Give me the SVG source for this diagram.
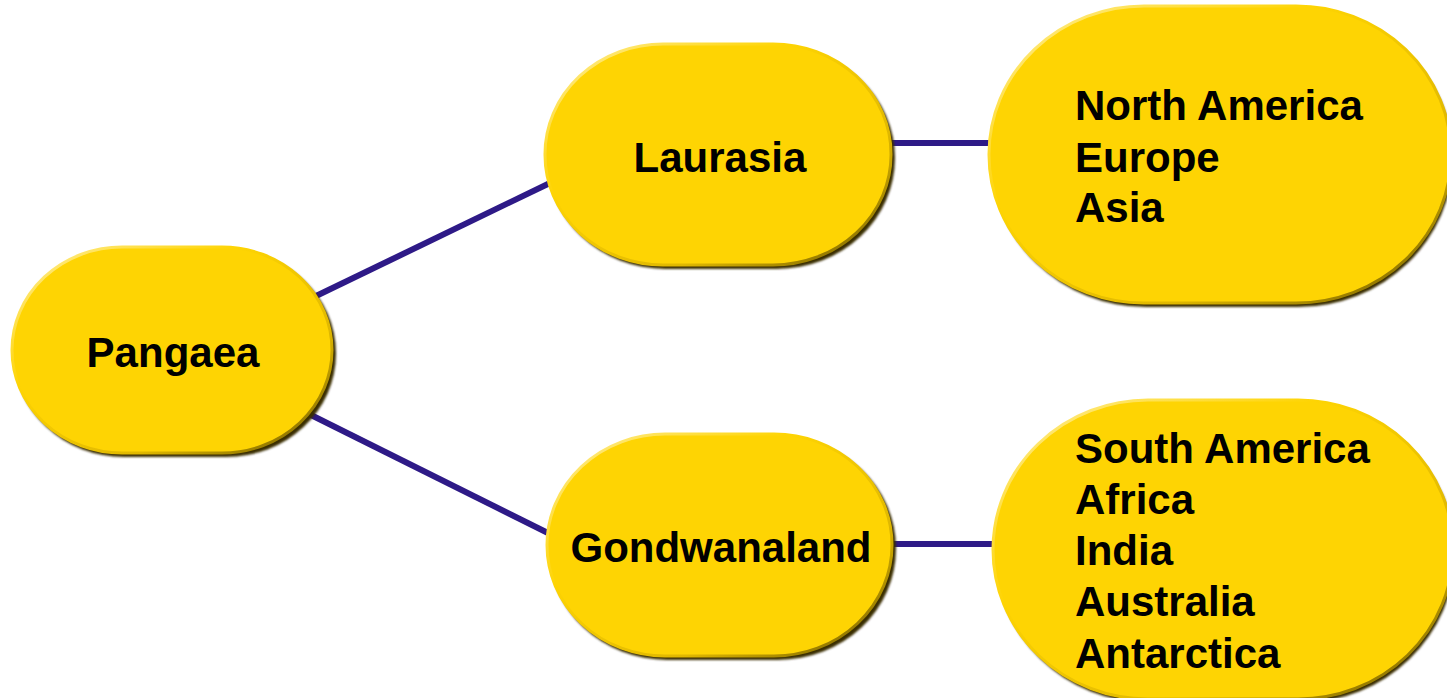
<svg xmlns="http://www.w3.org/2000/svg" width="1447" height="698" viewBox="0 0 1447 698">
  <defs>
    <style>
      .shadow { fill: #3a2e00; filter: url(#blur); }
      .body { fill: #FED403; stroke: url(#edge); stroke-width: 3; }
      .lbl { font-family: "Liberation Sans", Arial, sans-serif; font-weight: bold; font-size: 42px; fill: #000; }
      .mid { text-anchor: middle; }
      .conn { stroke: #2E1A87; stroke-width: 6; fill: none; }
    </style>
    <filter id="blur" x="-10%" y="-10%" width="120%" height="120%">
      <feGaussianBlur stdDeviation="1.2"/>
    </filter>
    <linearGradient id="edge" x1="0" y1="0" x2="1" y2="1">
      <stop offset="0" stop-color="#FFEFA0"/>
      <stop offset="0.35" stop-color="#FED403"/>
      <stop offset="0.7" stop-color="#E0B800"/>
      <stop offset="1" stop-color="#6a5600"/>
    </linearGradient>
  </defs>
  <rect width="1447" height="698" fill="#FFFFFF"/>
  <g id="connectors">
    <line class="conn" x1="316" y1="296" x2="552" y2="182"/>
    <line class="conn" x1="311" y1="415" x2="550" y2="534"/>
    <line class="conn" x1="890" y1="143" x2="992" y2="143"/>
    <line class="conn" x1="891" y1="544" x2="996" y2="544"/>
  </g>
  <g id="pangaea">
    <rect class="shadow" x="14" y="250" width="322" height="207" rx="110" ry="103"/>
    <rect class="body" x="12" y="247" width="320" height="206" rx="110" ry="103"/>
    <text class="lbl mid" x="173" y="367">Pangaea</text>
  </g>
  <g id="laurasia">
    <rect class="shadow" x="547" y="47" width="348" height="222" rx="118" ry="111"/>
    <rect class="body" x="545" y="44" width="346" height="221" rx="118" ry="110"/>
    <text class="lbl mid" x="720" y="172">Laurasia</text>
  </g>
  <g id="gondwanaland">
    <rect class="shadow" x="549" y="437" width="347" height="223" rx="118" ry="111"/>
    <rect class="body" x="547" y="434" width="345" height="222" rx="118" ry="111"/>
    <text class="lbl mid" x="721" y="562">Gondwanaland</text>
  </g>
  <g id="laurasia-continents">
    <rect class="shadow" x="991" y="9" width="462" height="298" rx="155" ry="149"/>
    <rect class="body" x="989" y="6" width="462" height="297" rx="155" ry="148"/>
    <text class="lbl" x="1075" y="120">North America</text>
    <text class="lbl" x="1075" y="172">Europe</text>
    <text class="lbl" x="1075" y="222">Asia</text>
  </g>
  <g id="gondwanaland-continents">
    <rect class="shadow" x="995" y="403" width="460" height="300" rx="155" ry="150"/>
    <rect class="body" x="993" y="400" width="460" height="299" rx="155" ry="150"/>
    <text class="lbl" x="1075" y="463">South America</text>
    <text class="lbl" x="1075" y="514">Africa</text>
    <text class="lbl" x="1075" y="565">India</text>
    <text class="lbl" x="1075" y="616">Australia</text>
    <text class="lbl" x="1075" y="668">Antarctica</text>
  </g>
</svg>
